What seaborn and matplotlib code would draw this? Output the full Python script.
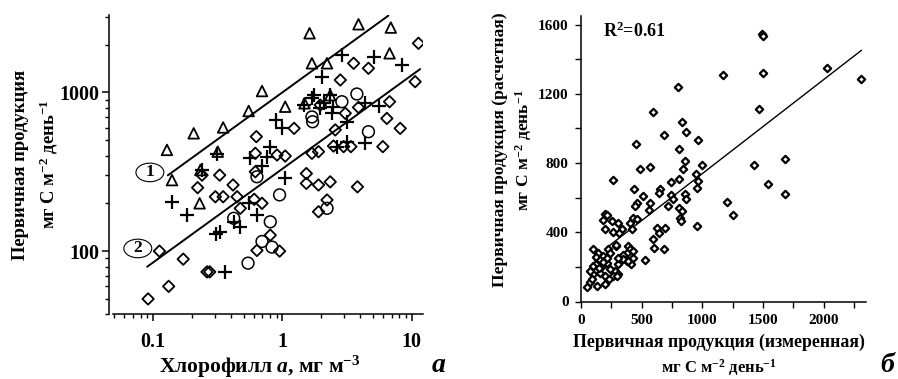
import numpy as np
import matplotlib
matplotlib.use("Agg")
import matplotlib.pyplot as plt
from matplotlib.patches import Ellipse
from matplotlib.ticker import LogLocator, NullFormatter, MultipleLocator
import seaborn as sns

# panel a: chlorophyll vs primary production (log-log)
tri_chl = [0.128, 0.140, 0.206, 0.232, 0.229, 0.348, 0.316, 0.548, 0.695, 1.05,
           1.62, 1.69, 1.48, 2.21, 3.87, 6.88, 6.73, 2.34]
tri_pp = [434, 280, 552, 324, 200, 601, 423, 763, 1019, 812,
          2355, 1524, 853, 1524, 2684, 2559, 1761, 960]

plus_chl = [0.140, 0.183, 0.239, 0.312, 0.308, 0.331, 0.357, 0.42, 0.472, 0.548,
            0.565, 0.635, 0.695, 0.759, 0.796, 0.896, 0.99, 1.05, 1.46, 1.69,
            1.74, 2.02, 2.10, 2.34, 2.48, 2.41, 2.88, 3.15, 3.15, 4.37,
            2.64, 5.06, 8.38, 4.37, 5.53, 1.96]
plus_pp = [205, 169, 324, 408, 129, 132, 74, 153, 142, 200,
           384, 169, 344, 394, 455, 670, 593, 287, 832, 917,
           962, 1255, 853, 962, 812, 738, 1718, 653, 489, 477,
           455, 1678, 1486, 853, 824, 793]

circ_chl = [0.635, 0.95, 0.42, 0.805, 0.695, 0.83, 0.542, 1.71, 1.69, 2.88,
            3.76, 4.62, 2.21]
circ_pp = [294, 226, 161, 153, 115, 106, 84, 653, 700, 873,
           976, 565, 186]

dia_chl = [0.0915, 0.132, 0.112, 0.171, 0.261, 0.274, 0.221, 0.239, 0.327, 0.303,
           0.348, 0.415, 0.446, 0.472, 0.628, 0.617, 0.617, 0.605, 0.695, 0.635,
           0.805, 0.95, 0.908, 1.05, 1.23, 1.53, 1.53, 1.69, 1.90, 1.90,
           1.90, 2.21, 1.96, 2.48, 2.56, 2.80, 3.06, 3.38, 3.55, 3.87,
           3.80, 4.62, 5.97, 6.41, 6.73, 8.13, 10.6, 11.25, 2.34, 2.97]
dia_pp = [50, 60, 100, 89, 74, 74, 251, 301, 301, 220,
          220, 261, 220, 186, 526, 413, 316, 212, 200, 101,
          126, 100, 403, 397, 593, 308, 267, 413, 261, 423,
          177, 210, 832, 459, 580, 1196, 738, 455, 1524, 804,
          254, 1417, 455, 685, 873, 593, 1167, 2036, 273, 455]

# regression lines of panel a: P = k * Chl^b
line1_k, line2_k, line_b = 1000, 330, 0.59
line1_range = [0.13, 6.6]
line2_range = [0.09, 11.6]

# panel b: measured vs calculated production
pp_measured = [1489, 1500, 2025, 2307, 1167, 1497, 799, 596, 1464, 835,
               687, 865, 967, 453, 810, 857, 1000, 486, 569, 843,
               1426, 1681, 948, 967, 261, 744, 805, 437, 651, 645,
               953, 508, 459, 448, 569, 563, 742, 761, 857, 865,
               720, 805, 835, 1681, 1544, 1200, 1255, 816, 821, 953,
               624, 645, 692, 596, 602, 681, 527, 426, 459, 404,
               418, 308, 335, 267, 316, 255, 198, 184, 195, 212,
               286, 223, 390, 404, 376, 431, 426, 376, 321, 349,
               302, 280, 308, 267, 198, 198, 129, 47, 74, 102,
               102, 143, 184, 212, 239, 157, 102, 74, 129, 170,
               212, 143, 294, 233, 239, 346, 415, 387, 291, 305,
               120, 160, 180, 150, 90]
pp_calculated = [1545, 1535, 1350, 1287, 1311, 1321, 1240, 1094, 1113, 1036,
                 965, 979, 936, 913, 879, 811, 788, 763, 777, 763,
                 788, 821, 738, 696, 700, 690, 706, 652, 652, 629,
                 658, 610, 571, 552, 567, 529, 613, 590, 619, 590,
                 552, 542, 523, 619, 677, 575, 498, 481, 465, 437,
                 427, 398, 427, 360, 312, 306, 240, 485, 475, 456,
                 421, 452, 417, 404, 398, 465, 504, 469, 417, 498,
                 321, 306, 321, 302, 283, 292, 254, 235, 244, 267,
                 215, 177, 158, 148, 148, 100, 90, 81, 110, 206,
                 302, 283, 263, 225, 187, 167, 158, 177, 225, 206,
                 254, 244, 148, 129, 283, 244, 216, 235, 325, 254,
                 260, 240, 230, 195, 130]

fit_intercept, fit_slope = 196, 0.543
fit_range = [210, 2313]

sns.set_theme(style="ticks")
plt.rcParams["font.family"] = ["Liberation Serif", "DejaVu Serif"]
plt.rcParams.update({
    "font.weight": "bold",
    "axes.labelweight": "bold",
    "mathtext.fontset": "custom",
    "mathtext.rm": "Liberation Serif:bold",
    "mathtext.bf": "Liberation Serif:bold",
    "mathtext.it": "Liberation Serif:italic:bold",
    "axes.linewidth": 1.1,
    "axes.edgecolor": "black",
    "axes.labelcolor": "black",
    "text.color": "black",
    "xtick.color": "black",
    "ytick.color": "black",
    "xtick.direction": "out",
    "ytick.direction": "out",
})

fig = plt.figure(figsize=(8.98, 3.79), dpi=100)
ax1 = fig.add_axes([113 / 898, 1 - 314.3 / 379, 310 / 898, 299.3 / 379])
ax2 = fig.add_axes([581 / 898, 1 - 301.5 / 379, 285 / 898, 285.5 / 379])

# ---- panel a
sns.scatterplot(x=tri_chl, y=tri_pp, marker="^", s=58, color="black",
                facecolor="none", edgecolor="black", linewidth=1.3, ax=ax1, zorder=3)
sns.scatterplot(x=dia_chl, y=dia_pp, marker="D", s=34, color="black",
                facecolor="none", edgecolor="black", linewidth=1.3, ax=ax1, zorder=3)
sns.scatterplot(x=circ_chl, y=circ_pp, marker="o", s=72, color="black",
                facecolor="none", edgecolor="black", linewidth=1.1, ax=ax1, zorder=3)
sns.scatterplot(x=plus_chl, y=plus_pp, marker="+", s=90, color="black",
                linewidth=1.6, ax=ax1, zorder=3)

for k, rng in [(line1_k, line1_range), (line2_k, line2_range)]:
    xs = np.array(rng)
    sns.lineplot(x=xs, y=k * xs ** line_b, color="black", linewidth=1.4, ax=ax1)

ax1.set_xscale("log")
ax1.set_yscale("log")
ax1.set_xlim(0.049, 12.2)
ax1.set_ylim(40, 3070)
ax1.set_xticks([0.1, 1, 10], labels=["0.1", "1", "10"])
ax1.set_yticks([100, 1000], labels=["100", "1000"])
ax1.xaxis.set_minor_locator(LogLocator(base=10, subs=np.arange(2, 10)))
ax1.yaxis.set_minor_locator(LogLocator(base=10, subs=np.arange(2, 10)))
ax1.xaxis.set_minor_formatter(NullFormatter())
ax1.yaxis.set_minor_formatter(NullFormatter())
ax1.tick_params(axis="x", which="major", length=5, width=1.1, pad=8, labelsize=14.5)
ax1.tick_params(axis="y", which="major", length=5, width=1.1, pad=2, labelsize=14.5)
ax1.tick_params(which="minor", length=3, width=1.0)
ax1.spines["left"].set_position(("outward", 3))
sns.despine(ax=ax1)

ax1.set_xlabel("Хлорофилл $\\mathit{a}$, мг м$^{-3}$", fontsize=15.5, labelpad=1)
ax1.xaxis.label.set_x(0.474)
ax1.set_ylabel("Первичная продукция\nмг С м$^{-2}$ день$^{-1}$", fontsize=13.4,
               labelpad=-1, linespacing=1.55)

for cx, cy, lab in [(0.119, 0.474, "1"), (0.080, 0.220, "2")]:
    ax1.add_patch(Ellipse((cx, cy), 0.09, 0.062, transform=ax1.transAxes,
                          fill=False, edgecolor="black", linewidth=0.8, clip_on=False))
    ax1.text(cx, cy, lab, transform=ax1.transAxes, ha="center", va="center",
             fontsize=12.5)

# ---- panel b
sns.scatterplot(x=pp_measured, y=pp_calculated, marker="D", s=14, color="black",
                facecolor="white", edgecolor="black", linewidth=1.6, ax=ax2, zorder=3)
fx = np.array(fit_range)
sns.lineplot(x=fx, y=fit_intercept + fit_slope * fx, color="black", linewidth=1.0, ax=ax2)

ax2.set_xlim(0, 2350)
ax2.set_ylim(0, 1650)
ax2.xaxis.set_major_locator(MultipleLocator(500))
ax2.xaxis.set_minor_locator(MultipleLocator(250))
ax2.yaxis.set_major_locator(MultipleLocator(400))
ax2.yaxis.set_minor_locator(MultipleLocator(200))
ax2.tick_params(which="major", length=4, width=1.0, pad=5, labelsize=11)
ax2.tick_params(which="minor", length=4, width=1.0)
sns.despine(ax=ax2)

ax2.set_xlabel("Первичная продукция (измеренная)", fontsize=12.8, labelpad=5)
ax2.xaxis.label.set_x(0.484)
fig.text(719 / 898, 1 - 368 / 379, "мг С м$^{-2}$ день$^{-1}$", fontsize=12,
         ha="center", va="center")
ax2.set_ylabel("Первичная продукция (расчетная)\nмг С м$^{-2}$ день$^{-1}$",
               fontsize=12.6, labelpad=3, linespacing=1.3)
ax2.yaxis.label.set_y(0.531)
ax2.text(0.077, 0.945, "R$^{2}$=0.61", transform=ax2.transAxes, fontsize=13,
         ha="left", va="center")

fig.text(439 / 898, 1 - 366 / 379, "а", fontsize=20, style="italic",
         fontweight="bold", ha="center", va="center")
fig.text(887 / 898, 1 - 366 / 379, "б", fontsize=20, style="italic",
         fontweight="bold", ha="center", va="center")

fig.savefig("out.png", dpi=100)
